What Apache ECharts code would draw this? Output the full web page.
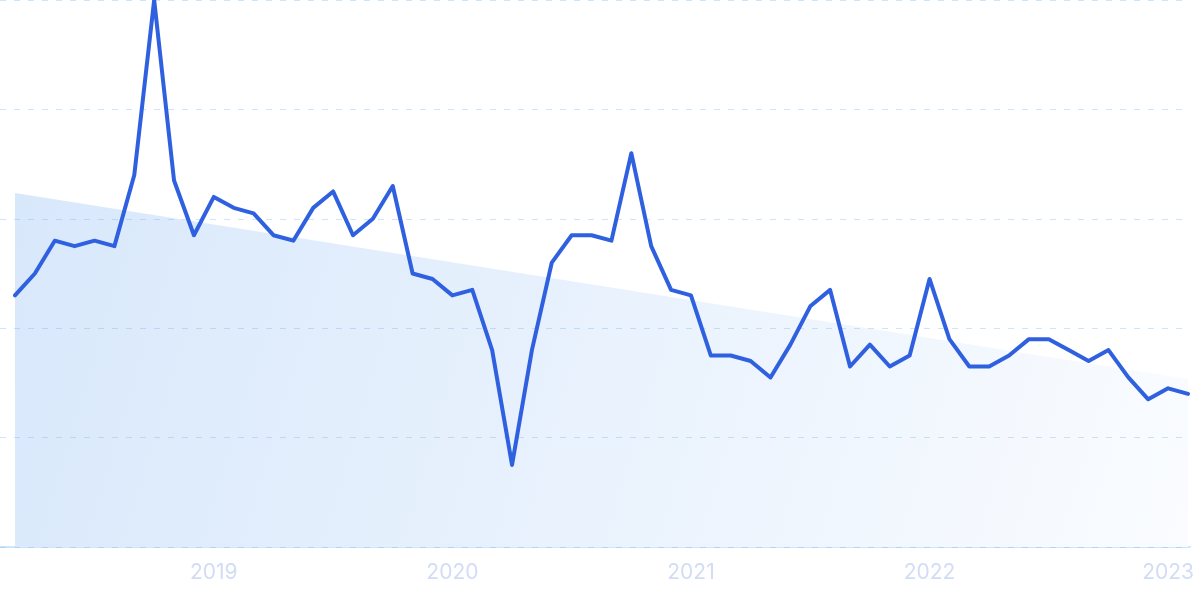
<!DOCTYPE html>
<html>
<head>
<meta charset="utf-8">
<script src="https://cdn.jsdelivr.net/npm/echarts@6/dist/echarts.min.js"></script>
<style>
html,body{margin:0;padding:0;background:#fff;}
#c{width:1200px;height:599px;}
</style>
</head>
<body>
<div id="c"></div>
<script>
// Monthly categories 2018-03 .. 2023-02
var months = [
  '2018-03','2018-04','2018-05','2018-06','2018-07','2018-08','2018-09','2018-10','2018-11','2018-12',
  '2019-01','2019-02','2019-03','2019-04','2019-05','2019-06','2019-07','2019-08','2019-09','2019-10','2019-11','2019-12',
  '2020-01','2020-02','2020-03','2020-04','2020-05','2020-06','2020-07','2020-08','2020-09','2020-10','2020-11','2020-12',
  '2021-01','2021-02','2021-03','2021-04','2021-05','2021-06','2021-07','2021-08','2021-09','2021-10','2021-11','2021-12',
  '2022-01','2022-02','2022-03','2022-04','2022-05','2022-06','2022-07','2022-08','2022-09','2022-10','2022-11','2022-12',
  '2023-01','2023-02'
];
var interest = [
  46,50,56,55,56,55,68,100,67,57,
  64,62,61,57,56,62,65,57,60,66,50,49,
  46,47,36,15,36,52,57,57,56,72,55,47,
  46,35,35,34,31,37,44,47,33,37,33,35,
  49,38,33,33,35,38,38,36,34,36,31,27,
  29,28
];
// Trend line endpoints (first and last month)
var trendStart = 64.7;
var trendEnd = 30.7;
var yMin = 0, yMax = 100, yStep = 20;

var chart = echarts.init(document.getElementById('c'), null, {renderer: 'canvas'});
var option = {
  animation: false,
  backgroundColor: '#ffffff',
  grid: [
    {left: 0, right: 10, top: 0, bottom: 52},
    {left: 15, right: 12, top: 0, bottom: 52}
  ],
  xAxis: [
    {
      gridIndex: 0, type: 'value', min: 0, max: 1,
      axisLine: {show: true, lineStyle: {color: '#d3e5fa', width: 2}},
      axisTick: {show: false}, axisLabel: {show: false}, splitLine: {show: false}
    },
    {
      gridIndex: 1, type: 'category', data: months, boundaryGap: false,
      axisLine: {show: false}, axisTick: {show: false}, splitLine: {show: false},
      axisLabel: {
        show: true,
        interval: function (idx, val) { return val.slice(5) === '01'; },
        formatter: function (val) { return val.slice(0, 4); },
        color: '#d2dcf4',
        fontFamily: 'Inter',
        fontSize: 21,
        margin: 15
      }
    }
  ],
  yAxis: [
    {
      gridIndex: 0, type: 'value', min: yMin, max: yMax, interval: yStep, z: 5,
      axisLine: {show: false}, axisTick: {show: false}, axisLabel: {show: false},
      splitLine: {show: true, lineStyle: {color: 'rgba(110,180,245,0.35)', type: [6, 8], width: 1.2}}
    },
    {
      gridIndex: 1, type: 'value', min: yMin, max: yMax, interval: yStep,
      axisLine: {show: false}, axisTick: {show: false}, axisLabel: {show: false},
      splitLine: {show: false}
    }
  ],
  series: [
    {
      type: 'line',
      xAxisIndex: 1, yAxisIndex: 1,
      data: [[0, trendStart], [months.length - 1, trendEnd]],
      symbol: 'none',
      lineStyle: {width: 0, opacity: 0},
      areaStyle: {
        opacity: 1,
        color: new echarts.graphic.LinearGradient(0, 0, 1, 1, [
          {offset: 0, color: 'rgb(216,232,251)'},
          {offset: 1, color: 'rgb(250,252,255)'}
        ])
      },
      z: 1,
      silent: true
    },
    {
      type: 'line',
      xAxisIndex: 1, yAxisIndex: 1,
      data: interest,
      symbol: 'none',
      smooth: false,
      lineStyle: {color: '#2f60e0', width: 4, cap: 'round', join: 'round'},
      z: 10
    }
  ]
};
chart.setOption(option);
</script>
</body>
</html>
